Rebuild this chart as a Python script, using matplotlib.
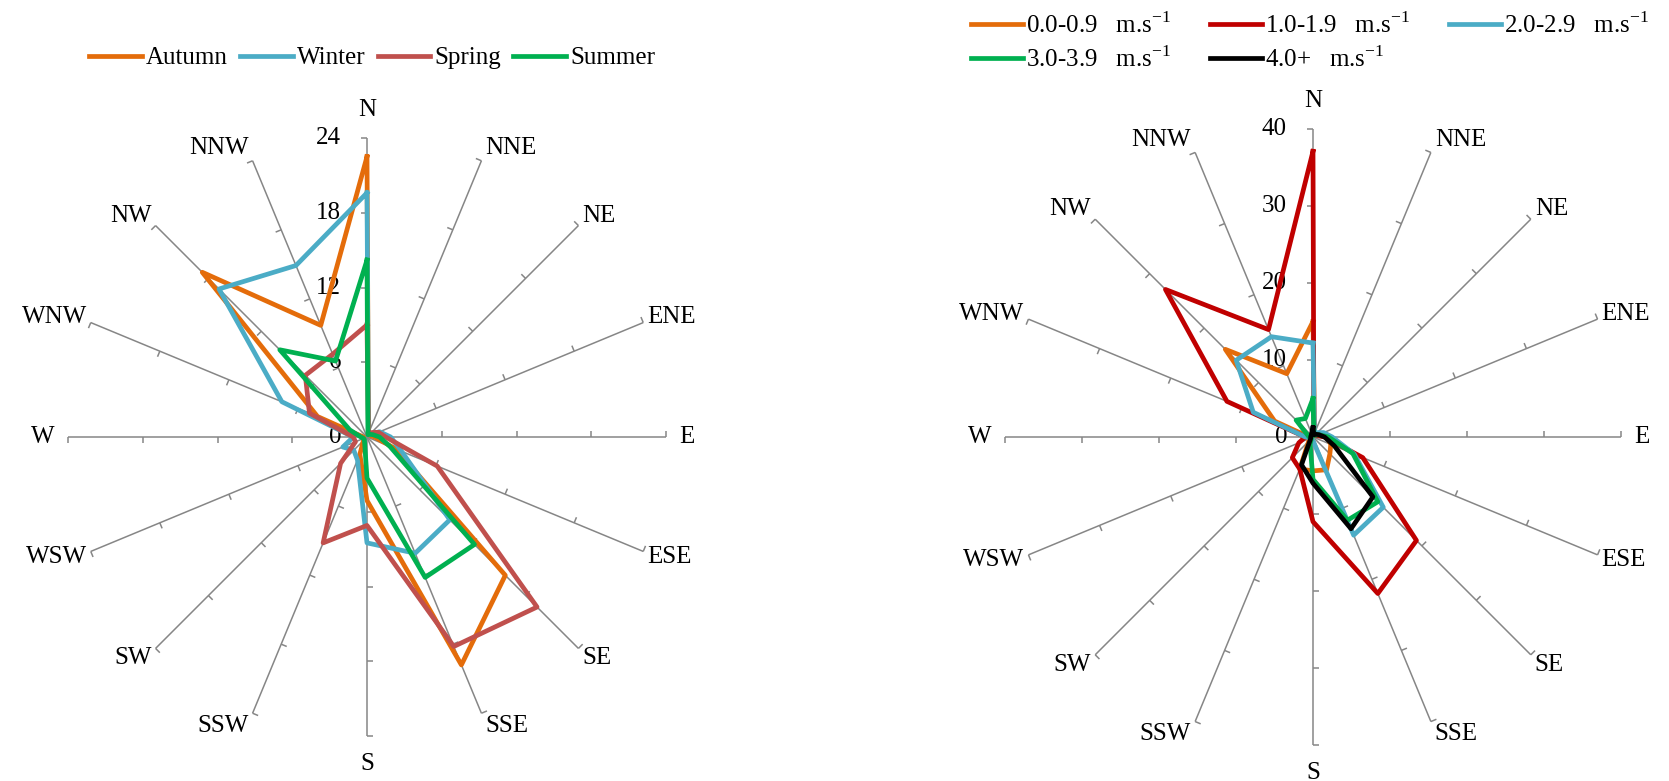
import numpy as np
import matplotlib.pyplot as plt

plt.rcParams['font.family'] = ['Liberation Serif', 'DejaVu Serif']
plt.rcParams['mathtext.fontset'] = 'custom'
plt.rcParams['mathtext.rm'] = 'Liberation Serif'
plt.rcParams['font.size'] = 18

directions = ['N', 'NNE', 'NE', 'ENE', 'E', 'ESE', 'SE', 'SSE',
              'S', 'SSW', 'SW', 'WSW', 'W', 'WNW', 'NW', 'NNW']

# seasonal frequency (%) per direction
season_names = ['Autumn', 'Winter', 'Spring', 'Summer']
autumn = [22.5, 0.3, 0.3, 0.3, 0.6, 2.5, 15.7, 19.8, 5.1, 1.5, 0.4, 0.3, 0.3, 4.3, 18.7, 9.7]
winter = [19.6, 0.3, 0.3, 1.1, 1.9, 3.0, 9.4, 10.1, 8.5, 2.0, 1.5, 2.1, 1.1, 7.4, 16.8, 14.9]
spring = [9.0, 0.3, 0.5, 1.0, 1.5, 6.1, 19.3, 18.2, 7.1, 9.2, 3.0, 1.0, 1.1, 5.0, 7.0, 7.2]
summer = [14.2, 0.2, 0.3, 0.5, 1.0, 2.0, 12.2, 12.2, 3.3, 0.5, 0.3, 0.3, 0.5, 1.5, 9.9, 6.6]
season_colors = ['#E46C0A', '#4BACC6', '#C0504D', '#00B050']

# frequency (%) per direction by wind speed class
speed_names = ['0.0-0.9', '1.0-1.9', '2.0-2.9', '3.0-3.9', '4.0+']
speed_00 = [15.0, 0.5, 0.6, 0.8, 1.8, 2.5, 3.1, 4.6, 4.4, 4.5, 0.8, 0.5, 0.5, 5.4, 16.1, 8.9]
speed_10 = [37.1, 0.3, 0.3, 0.5, 1.5, 7.0, 19.0, 22.0, 11.0, 4.5, 3.8, 2.0, 1.0, 12.1, 27.1, 15.1]
speed_20 = [12.2, 0.5, 0.8, 1.5, 2.5, 5.8, 12.9, 13.8, 0.5, 0.3, 0.3, 0.3, 1.0, 8.4, 14.1, 14.1]
speed_30 = [5.0, 0.3, 0.3, 0.8, 2.0, 5.6, 11.9, 11.7, 5.5, 1.0, 0.3, 0.3, 0.5, 0.8, 3.1, 2.6]
speed_40 = [1.2, 0.3, 0.5, 0.8, 1.5, 3.0, 11.0, 12.9, 6.0, 3.9, 0.5, 0.3, 0.3, 0.3, 0.3, 0.5]
speed_colors = ['#E46C0A', '#C00000', '#4BACC6', '#00B050', '#000000']

W, H = 1669, 781
fig = plt.figure(figsize=(W / 100, H / 100), dpi=100)
theta = np.deg2rad(np.arange(16) * 22.5)
spoke_color = '#868686'


def make_axes(cx, cy, scale, lim):
    # axes placed so that data (0, 0) sits at pixel (cx, cy)
    left = (cx - lim * scale) / W
    bottom = 1 - (cy + lim * scale) / H
    size_w = 2 * lim * scale / W
    size_h = 2 * lim * scale / H
    ax = fig.add_axes([left, bottom, size_w, size_h])
    ax.set_xlim(-lim, lim)
    ax.set_ylim(-lim, lim)
    ax.axis('off')
    return ax


def draw_frame(ax, rmax, step, scale):
    tick = 6 / scale
    for t, name in zip(theta, directions):
        s, c = np.sin(t), np.cos(t)
        ax.plot([0, rmax * s], [0, rmax * c], color=spoke_color, lw=1.1,
                zorder=1, solid_capstyle='butt')
        for v in np.arange(step, rmax + step / 2, step):
            ax.plot([v * s, v * s - tick * c], [v * c, v * c + tick * s],
                    color=spoke_color, lw=1.1, zorder=1, solid_capstyle='butt')
        if s > 0.1:
            ha = 'left'
        elif s < -0.1:
            ha = 'right'
        else:
            ha = 'center'
        dx = (13 if abs(s) > 0.99 else 4) * np.sign(round(s, 3))
        dy = 28 * np.sign(c) if abs(c) > 0.99 else 14 * c
        ax.annotate(name, xy=(rmax * s, rmax * c), xytext=(dx * 0.72, dy * 0.72),
                    textcoords='offset points', ha=ha, va='center',
                    annotation_clip=False)
    for v in np.arange(0, rmax + step / 2, step):
        ax.annotate(f'{v:g}', xy=(0, v), xytext=(-26 * 0.72, 0),
                    textcoords='offset points', ha='right', va='center',
                    annotation_clip=False)


def draw_series(ax, series, colors):
    lines = []
    for vals, col in zip(series, colors):
        r = np.append(vals, vals[0])
        t = np.append(theta, theta[0])
        ln, = ax.plot(r * np.sin(t), r * np.cos(t), color=col, lw=3.4,
                      solid_joinstyle='round', zorder=3, clip_on=False)
        lines.append(ln)
    return lines


# seasonal rose
scale_l = 299 / 24
ax_l = make_axes(367, 437, scale_l, 29)
draw_frame(ax_l, 24, 6, scale_l)
lines_l = draw_series(ax_l, [autumn, winter, spring, summer], season_colors)

# wind speed class rose
scale_r = 308 / 40
ax_r = make_axes(1313, 437, scale_r, 45)
draw_frame(ax_r, 40, 10, scale_r)
lines_r = draw_series(ax_r, [speed_00, speed_10, speed_20, speed_30, speed_40],
                      speed_colors)

fig.legend(lines_l, season_names, loc='center', bbox_to_anchor=(372 / W, 1 - 58 / H),
           ncol=4, frameon=False, handlelength=2.1, handletextpad=0.16,
           columnspacing=0.5, borderpad=0, borderaxespad=0)

# legend fills column by column; order entries so rows read left to right
speed_labels = [f'{n}   m.s$^{{\\mathregular{{-1}}}}$' for n in speed_names]
order = [0, 3, 1, 4, 2]
fig.legend([lines_r[i] for i in order], [speed_labels[i] for i in order],
           loc='center', bbox_to_anchor=(1310 / W, 1 - 42 / H),
           ncol=3, frameon=False, handlelength=2.1, handletextpad=0.12,
           columnspacing=1.55, labelspacing=0.35, borderpad=0, borderaxespad=0)

fig.savefig('out.png', dpi=100)
